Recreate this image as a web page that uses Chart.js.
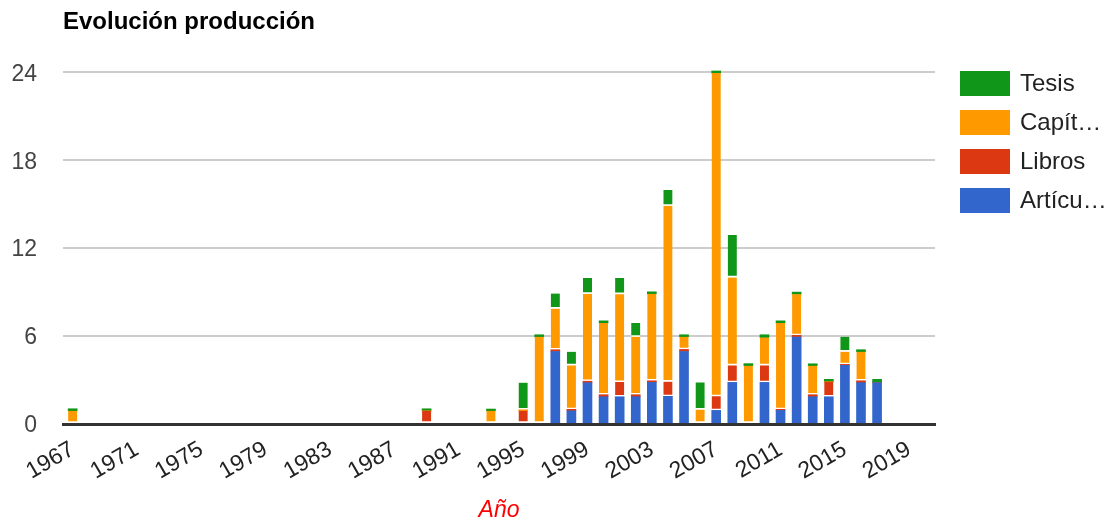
<!DOCTYPE html>
<html>
<head>
<meta charset="utf-8">
<script src="https://cdn.jsdelivr.net/npm/chart.js@4/dist/chart.umd.min.js"></script>
<style>
  body { margin: 0; background: #fff; }
  #wrap { width: 1111px; height: 524px; position: relative; }
</style>
</head>
<body>
<div id="wrap"><canvas id="prodChart"></canvas></div>
<script>
// Years that have at least one item
const years = [1967, 1989, 1993, 1995, 1996, 1997, 1998, 1999, 2000, 2001, 2002, 2003, 2004,
    2005, 2006, 2007, 2008, 2009, 2010, 2011, 2012, 2013, 2014, 2015, 2016, 2017];

// Values per series
const articulos = [0, 0, 0, 0, 0, 4.95, 0.9, 2.82, 1.86, 1.86, 1.86, 2.84, 1.89,
    4.95, 0, 0.93, 2.84, 0, 2.84, 0.93, 5.93, 1.86, 1.86, 4.0, 2.82, 2.82];
const libros = [0, 0.9, 0, 0.9, 0, 0.12, 0.1, 0.1, 0.14, 1.0, 0.14, 0.11, 1.0,
    0.14, 0, 0.96, 1.16, 0, 1.16, 0.07, 0.12, 0.14, 1.03, 0.07, 0.13, 0];
const capitulos = [0.9, 0, 0.9, 0.07, 5.95, 2.8, 3.0, 5.95, 4.9, 6.0, 3.95, 5.94, 12.0,
    0.86, 0.98, 22.06, 6.0, 3.98, 1.9, 5.9, 2.8, 1.98, 0, 0.86, 1.98, 0];
const tesis = [0.14, 0.14, 0.12, 1.85, 0.14, 1.03, 0.93, 1.1, 0.14, 1.1, 0.95, 0.13, 1.07,
    0.14, 1.86, 0.14, 2.9, 0.14, 0.19, 0.14, 0.15, 0.13, 0.16, 1.02, 0.14, 0.23];

// Axis ticks
const xTicks = [1967, 1971, 1975, 1979, 1983, 1987, 1991, 1995, 1999, 2003, 2007, 2011, 2015, 2019];
const yTicks = [0, 6, 12, 18, 24];

const seriesNames = ['Artícu…', 'Libros', 'Capít…', 'Tesis'];
const seriesColors = ['#3366cc', '#dc3912', '#ff9900', '#109618'];

const FONT = '"Liberation Sans", Arial, sans-serif';

// white gap above bigger segments, like the original
function segmentBorder(ctx) {
    if (ctx.datasetIndex > 0 && ctx.raw >= 0.5) {
        return { top: 0, left: 0, right: 0, bottom: 2 };
    }
    return 0;
}

// Legend drawn at the right, top to bottom in reverse dataset order
const sideLegend = {
    id: 'sideLegend',
    afterDraw(chart) {
        const c = chart.ctx;
        const sets = chart.data.datasets.slice().reverse();
        c.save();
        c.font = '24px ' + FONT;
        c.textBaseline = 'middle';
        sets.forEach((ds, i) => {
            const top = 71 + i * 39;
            c.fillStyle = ds.backgroundColor;
            c.fillRect(960, top, 50, 25);
            c.fillStyle = '#222';
            c.fillText(ds.label, 1020, top + 13);
        });
        c.restore();
    }
};

const datasets = [articulos, libros, capitulos, tesis].map((vals, i) => ({
    label: seriesNames[i],
    data: vals,
    backgroundColor: seriesColors[i],
    borderColor: '#ffffff',
    borderWidth: segmentBorder,
    borderSkipped: false,
    barThickness: 9,
    clip: false
}));

new Chart(document.getElementById('prodChart'), {
    type: 'bar',
    data: { labels: years, datasets: datasets },
    plugins: [sideLegend],
    options: {
        responsive: true,
        maintainAspectRatio: false,
        animation: false,
        layout: { padding: { left: 0, right: 176, top: 0, bottom: 0 } },
        plugins: {
            legend: { display: false },
            tooltip: { enabled: false },
            title: {
                display: true,
                text: 'Evolución producción',
                align: 'start',
                fullSize: false,
                color: '#000',
                font: { family: FONT, size: 24, weight: 'bold' },
                padding: { top: 8, bottom: 35.5 }
            }
        },
        scales: {
            x: {
                type: 'linear',
                stacked: true,
                offset: false,
                min: 1966.4,
                max: 2020.6,
                afterBuildTicks: axis => { axis.ticks = xTicks.map(v => ({ value: v })); },
                afterFit: axis => { axis.height = 100; },
                grid: { display: false },
                border: { display: true, color: '#333', width: 3, z: 1 },
                ticks: {
                    autoSkip: false,
                    maxRotation: 30,
                    minRotation: 30,
                    padding: 4,
                    color: '#222',
                    font: { family: FONT, size: 23 },
                    callback: v => String(v)
                },
                title: {
                    display: true,
                    text: 'Año',
                    color: '#ff0000',
                    font: { family: FONT, size: 23, style: 'italic' },
                    padding: { top: 0, bottom: 0 }
                }
            },
            y: {
                stacked: true,
                min: 0,
                max: 24,
                afterBuildTicks: axis => { axis.ticks = yTicks.map(v => ({ value: v })); },
                afterFit: axis => { axis.width = 63; },
                border: { display: false },
                grid: {
                    drawTicks: false,
                    color: c => c.tick && c.tick.value === 0 ? 'rgba(0,0,0,0)' : '#cccccc',
                    lineWidth: 2
                },
                ticks: {
                    padding: 26,
                    labelOffset: 2,
                    color: '#444',
                    font: { family: FONT, size: 23 }
                }
            }
        }
    }
});
</script>
</body>
</html>
